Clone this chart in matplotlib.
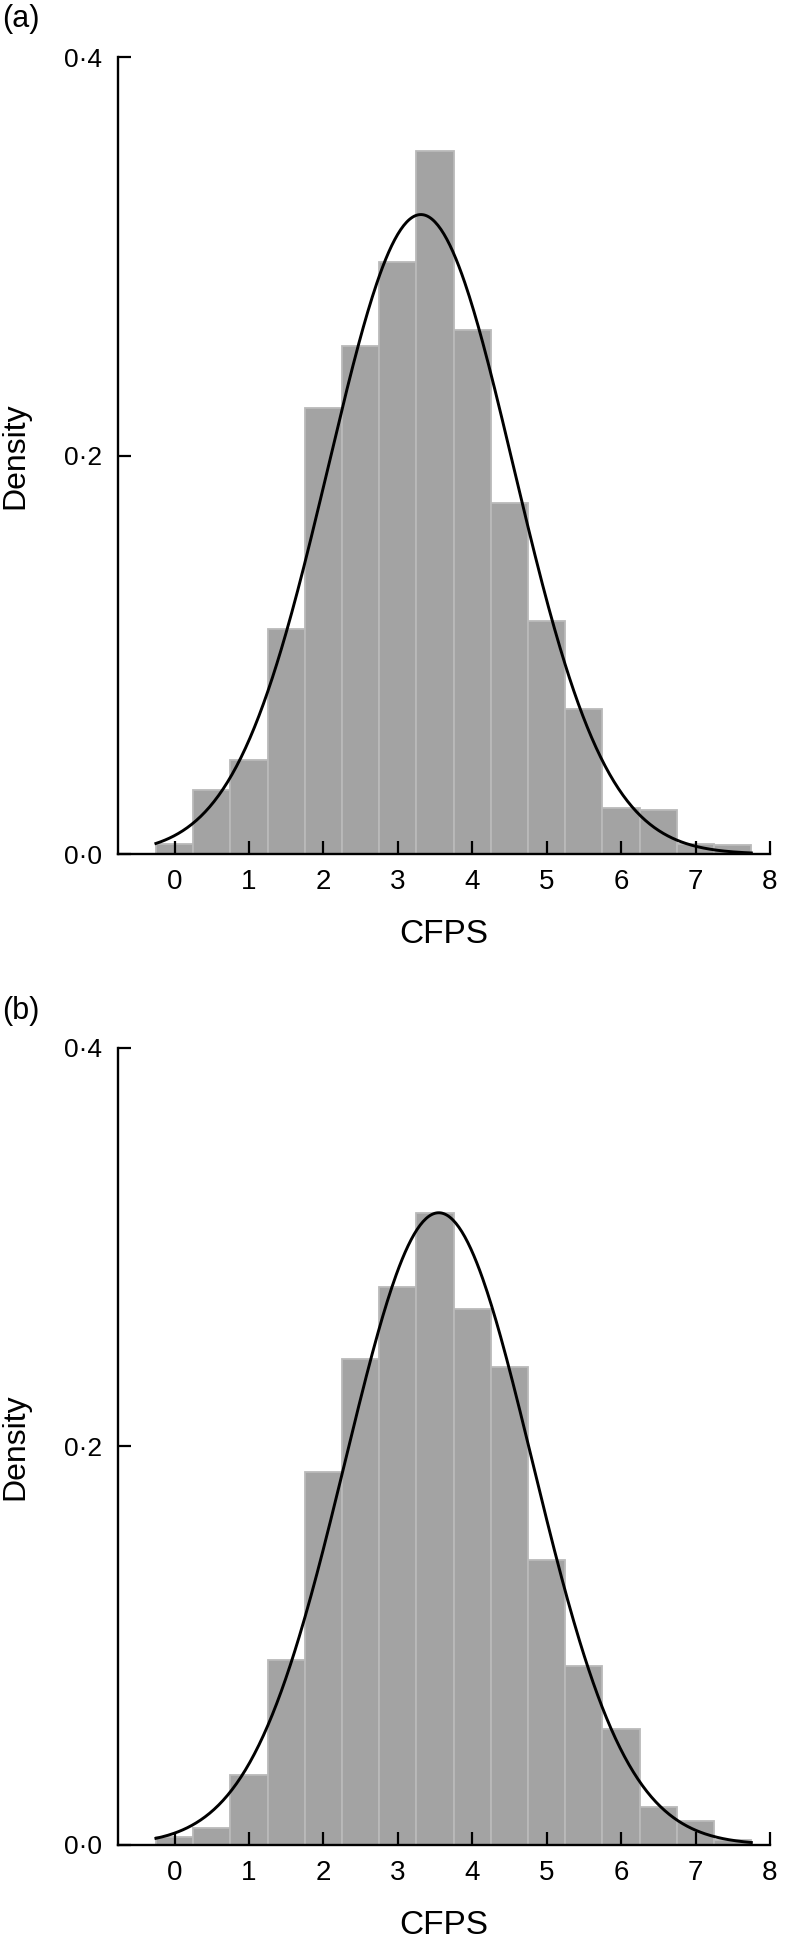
import numpy as np
import matplotlib
matplotlib.use("Agg")
import matplotlib.pyplot as plt

plt.rcParams['font.family'] = ['Liberation Sans', 'DejaVu Sans']

# histogram bins (centres, width 0.5) and densities
bin_centres = [0.0, 0.5, 1.0, 1.5, 2.0, 2.5, 3.0, 3.5, 4.0, 4.5, 5.0, 5.5, 6.0, 6.5, 7.0, 7.5]
density_a = [0.005, 0.032, 0.047, 0.113, 0.224, 0.255, 0.297, 0.353, 0.263, 0.176,
             0.117, 0.073, 0.023, 0.022, 0.005, 0.0045]
density_b = [0.004, 0.0085, 0.035, 0.093, 0.187, 0.244, 0.280, 0.317, 0.269, 0.240,
             0.143, 0.090, 0.058, 0.019, 0.012, 0.0025]

fit_a = (3.31, 1.243)
fit_b = (3.55, 1.258)

x_ticks = [0, 1, 2, 3, 4, 5, 6, 7, 8]
y_ticks = [0.0, 0.2, 0.4]
y_tick_labels = ['0·0', '0·2', '0·4']
panel_labels = ['(a)', '(b)']

BIN_W = 0.5
FACE = '#a3a3a3'
EDGE = '#bababa'


def normal_pdf(x, mu, sd):
    return np.exp(-0.5 * ((x - mu) / sd) ** 2) / (sd * np.sqrt(2 * np.pi))


def draw_panel(ax, dens, fit):
    ax.bar(bin_centres, dens, width=BIN_W, color=FACE, edgecolor=EDGE,
           linewidth=1.3, zorder=1)
    xs = np.linspace(bin_centres[0] - BIN_W / 2, bin_centres[-1] + BIN_W / 2, 400)
    ax.plot(xs, normal_pdf(xs, *fit), color='black', lw=2.1, zorder=3)

    ax.set_xlim(-0.765, 8.0)
    ax.set_ylim(0, 0.4)
    for s in ['top', 'right']:
        ax.spines[s].set_visible(False)
    for s in ['left', 'bottom']:
        ax.spines[s].set_linewidth(1.7)
        ax.spines[s].set_zorder(4)

    ax.set_xticks(x_ticks)
    ax.set_yticks(y_ticks)
    ax.set_yticklabels(y_tick_labels)
    ax.tick_params(axis='both', direction='in', length=9.5, width=1.6)
    ax.tick_params(axis='x', labelsize=20, pad=11)
    ax.tick_params(axis='y', labelsize=19, pad=11)
    ax.set_xlabel('CFPS', fontsize=24, labelpad=17)
    ax.set_ylabel('Density', fontsize=23)
    ax.yaxis.set_label_coords(-0.133, 0.5)


fig = plt.figure(figsize=(7.86, 19.41), dpi=100)
ax_a = fig.add_axes([0.1496, 0.5600, 0.8300, 0.4106])
ax_b = fig.add_axes([0.1496, 0.0495, 0.8300, 0.4108])

draw_panel(ax_a, density_a, fit_a)
draw_panel(ax_b, density_b, fit_b)

fig.text(0.003, 1 - 4 / 1941, panel_labels[0], fontsize=22, va='top', ha='left')
fig.text(0.003, 1 - 996 / 1941, panel_labels[1], fontsize=22, va='top', ha='left')

fig.savefig('out.png', dpi=100)
